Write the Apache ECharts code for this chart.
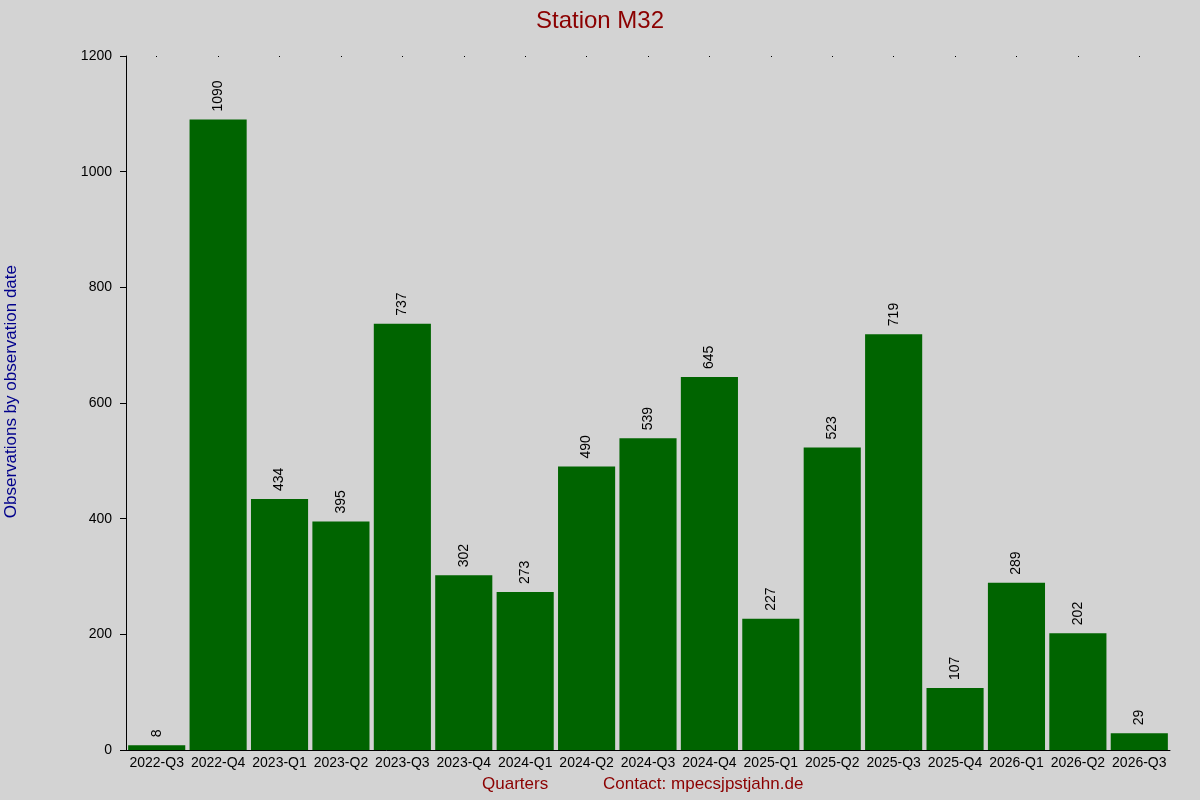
<!DOCTYPE html>
<html><head><meta charset="utf-8">
<script src="https://cdn.jsdelivr.net/npm/echarts@6/dist/echarts.min.js"></script>
<style>html,body{margin:0;background:#d3d3d3}#c{width:1200px;height:800px}</style>
</head><body><div id="c"></div>
<script>
const categories=["2022-Q3","2022-Q4","2023-Q1","2023-Q2","2023-Q3","2023-Q4","2024-Q1","2024-Q2","2024-Q3","2024-Q4","2025-Q1","2025-Q2","2025-Q3","2025-Q4","2026-Q1","2026-Q2","2026-Q3"];
const values=[8,1090,434,395,737,302,273,490,539,645,227,523,719,107,289,202,29];
const yTicks=[0,200,400,600,800,1000,1200];
const ch=echarts.init(document.getElementById('c'));
const font='"Liberation Sans", Arial, sans-serif';
ch.setOption({
backgroundColor:'#d3d3d3',animation:false,
title:{text:'Station M32',left:'center',top:4,textStyle:{color:'#8b0000',fontSize:24,fontWeight:'normal',fontFamily:font}},
graphic:[
{type:'text',left:482,top:776,style:{text:'Quarters',fill:'#8b0000',fontSize:17,fontFamily:font}},
{type:'text',left:603,top:776,style:{text:'Contact: mpecsjpstjahn.de',fill:'#8b0000',fontSize:17,fontFamily:font}},
{type:'text',rotation:Math.PI/2,left:3,top:265,style:{text:'Observations by observation date',fill:'#00008b',fontSize:17,fontFamily:font}}
],
grid:{left:126,right:30,top:56,bottom:50},
xAxis:[{type:'category',data:categories,axisLine:{lineStyle:{color:'#000'}},axisTick:{show:false},
axisLabel:{color:'#000',fontSize:14,fontFamily:font,margin:6,interval:0}},
{type:'category',position:'top',data:categories,axisLine:{show:false},axisLabel:{show:false},
axisTick:{show:true,alignWithLabel:true,length:-1,lineStyle:{color:'#000'}}}],
yAxis:{type:'value',min:0,max:1200,interval:200,
axisLine:{show:true,lineStyle:{color:'#000'}},axisTick:{show:true,length:6,lineStyle:{color:'#000'}},
splitLine:{show:false},axisLabel:{color:'#000',fontSize:14,fontFamily:font,margin:14,
formatter:v=>yTicks.includes(v)?String(v):''}},
series:[{type:'bar',data:values,barCategoryGap:'7%',itemStyle:{color:'#006400'},
label:{show:true,position:'top',rotate:90,align:'left',verticalAlign:'middle',distance:8,color:'#000',fontSize:14,fontFamily:font}}]
});
</script></body></html>
